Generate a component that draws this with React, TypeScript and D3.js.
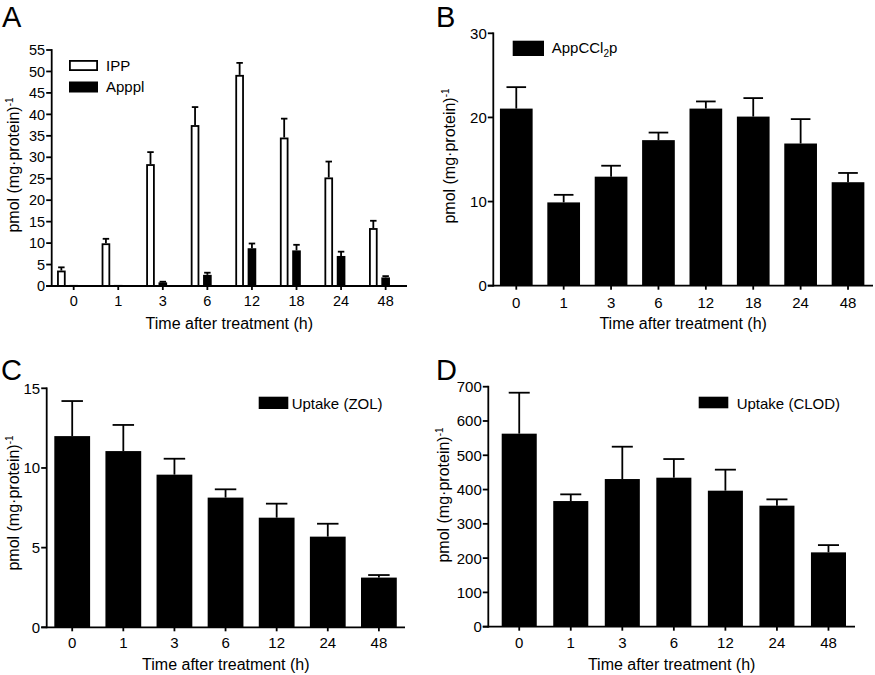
import React from "react";
import * as d3 from "d3";

// ---------- data ----------
const timesAB = ["0", "1", "3", "6", "12", "18", "24", "48"];
const timesCD = ["0", "1", "3", "6", "12", "24", "48"];

const ippMean = [3.6, 9.95, 28.4, 37.5, 49.2, 34.6, 25.3, 13.5];
const ippSem = [0.75, 1.05, 2.8, 4.2, 2.8, 4.4, 3.7, 1.7];
const appplMean = [0.25, 0.25, 0.85, 2.6, 8.8, 8.3, 7.0, 2.0];
const appplSem = [0, 0, 0.15, 0.5, 1.1, 1.3, 1.0, 0.3];

const appcclMean = [21.05, 9.9, 12.96, 17.3, 21.05, 20.1, 16.9, 12.3];
const appcclSem = [2.55, 0.9, 1.3, 0.9, 0.85, 2.2, 2.9, 1.1];

const zolMean = [12.0, 11.06, 9.58, 8.14, 6.88, 5.69, 3.12];
const zolSem = [2.2, 1.64, 1.0, 0.52, 0.88, 0.81, 0.16];

const clodMean = [563, 366.5, 430.7, 434.6, 396.7, 353, 216.8];
const clodSem = [119.5, 19.5, 94.3, 54.4, 61.3, 18.4, 21.2];

const ticksA = d3.range(0, 56, 5);
const ticksB = [0, 10, 20, 30];
const ticksC = [0, 5, 10, 15];
const ticksD = d3.range(0, 701, 100);

const seriesA = ["IPP", "Apppl"];

const FONT = "'Liberation Sans', Arial, Helvetica, sans-serif";
const SW = 1.8;

type Layout = {
  axisX: number;
  yTop: number;
  y0: number;
  xEnd: number;
  bandStart: number;
  bandEnd: number;
  pi: number;
  po: number;
  yMax: number;
  tickFont: number;
};

function Axes({
  L,
  y,
  ticks,
  cats,
  xPos,
  tickLabelY,
  title,
  titleY,
  ylabel,
}: {
  L: Layout;
  y: d3.ScaleLinear<number, number>;
  ticks: number[];
  cats: string[];
  xPos: (c: string) => number;
  tickLabelY: number;
  title: string;
  titleY: number;
  ylabel: { x: number; cy: number };
}) {
  return (
    <g>
      <line x1={L.axisX} x2={L.axisX} y1={y(L.yMax) - SW / 2} y2={L.y0 + SW / 2} stroke="#000" strokeWidth={SW} />
      {ticks.map((t) => (
        <g key={t}>
          <line x1={L.axisX - 5.5} x2={L.axisX} y1={y(t)} y2={y(t)} stroke="#000" strokeWidth={SW} />
          <text x={L.axisX - 6.5} y={y(t)} dy="0.36em" textAnchor="end" fontSize={L.tickFont} fontFamily={FONT}>
            {t}
          </text>
        </g>
      ))}
      <line x1={L.axisX - 5.5} x2={L.xEnd} y1={L.y0} y2={L.y0} stroke="#000" strokeWidth={SW} />
      {cats.map((c) => (
        <g key={c}>
          <line x1={xPos(c)} x2={xPos(c)} y1={L.y0} y2={L.y0 + 4} stroke="#000" strokeWidth={SW} />
          <text x={xPos(c)} y={tickLabelY} textAnchor="middle" fontSize={L.tickFont} fontFamily={FONT}>
            {c}
          </text>
        </g>
      ))}
      <text x={(L.axisX + L.xEnd) / 2} y={titleY} textAnchor="middle" fontSize={16} fontFamily={FONT}>
        {title}
      </text>
      <text
        transform={`translate(${ylabel.x},${ylabel.cy}) rotate(-90)`}
        textAnchor="middle"
        fontSize={16}
        fontFamily={FONT}
      >
        pmol (mg·protein)
        <tspan dy={-6} fontSize={10}>
          -1
        </tspan>
      </text>
    </g>
  );
}

function ErrBar({ x, yBar, yErr, cap }: { x: number; yBar: number; yErr: number; cap: number }) {
  if (Math.abs(yBar - yErr) < 0.5) return null;
  return (
    <g stroke="#000" strokeWidth={SW} fill="none">
      <line x1={x} x2={x} y1={yBar} y2={yErr} />
      <line x1={x - cap / 2} x2={x + cap / 2} y1={yErr} y2={yErr} />
    </g>
  );
}

function PanelA() {
  const L: Layout = {
    axisX: 51.7,
    yTop: 50,
    y0: 286,
    xEnd: 407,
    bandStart: 51.7,
    bandEnd: 395.3,
    pi: 0.53,
    po: 0.12,
    yMax: 55,
    tickFont: 14.5,
  };
  const x = d3.scaleBand<string>().domain(timesAB).range([L.bandStart, L.bandEnd]).paddingInner(L.pi).paddingOuter(L.po);
  const xs = d3.scaleBand<string>().domain(seriesA).range([0, x.bandwidth()]).paddingInner(0.3);
  const y = d3.scaleLinear().domain([0, L.yMax]).range([L.y0, L.yTop]);
  const sbw = xs.bandwidth();
  const tickPos = (c: string) => (x(c) as number) + (xs("Apppl") as number) + sbw / 2;
  return (
    <g>
      {timesAB.map((c, i) => {
        const gx = x(c) as number;
        const xi = gx + (xs("IPP") as number);
        const xa = gx + (xs("Apppl") as number);
        return (
          <g key={c}>
            <ErrBar x={xi + sbw / 2} yBar={y(ippMean[i])} yErr={y(ippMean[i] + ippSem[i])} cap={sbw * 0.75} />
            <rect
              x={xi + SW / 2}
              y={y(ippMean[i]) + SW / 2}
              width={sbw - SW}
              height={L.y0 - y(ippMean[i]) - SW / 2}
              fill="#fff"
              stroke="#000"
              strokeWidth={SW}
            />
            <ErrBar x={xa + sbw / 2} yBar={y(appplMean[i])} yErr={y(appplMean[i] + appplSem[i])} cap={sbw * 0.75} />
            <rect x={xa} y={y(appplMean[i])} width={sbw} height={L.y0 - y(appplMean[i])} fill="#000" />
          </g>
        );
      })}
      <Axes
        L={L}
        y={y}
        ticks={ticksA}
        cats={timesAB}
        xPos={tickPos}
        tickLabelY={306}
        title="Time after treatment (h)"
        titleY={329}
        ylabel={{ x: 18.5, cy: 165 }}
      />
      <rect x={69 + SW / 2} y={60 + SW / 2} width={29 - SW} height={11 - SW} fill="#fff" stroke="#000" strokeWidth={SW} />
      <text x={106} y={71} fontSize={15} fontFamily={FONT}>
        IPP
      </text>
      <rect x={69} y={81.5} width={29} height={11} fill="#000" />
      <text x={106} y={92} fontSize={15} fontFamily={FONT}>
        Apppl
      </text>
      <text x={2} y={26.5} fontSize={29} fontFamily={FONT}>
        A
      </text>
    </g>
  );
}

function SimplePanel({
  L,
  cats,
  mean,
  sem,
  ticks,
  tickLabelY,
  titleY,
  ylabel,
  legend,
  letter,
}: {
  L: Layout;
  cats: string[];
  mean: number[];
  sem: number[];
  ticks: number[];
  tickLabelY: number;
  titleY: number;
  ylabel: { x: number; cy: number };
  legend: { x: number; y: number; w: number; h: number; tx: number; ty: number; label: React.ReactNode };
  letter: { t: string; x: number; y: number };
}) {
  const x = d3.scaleBand<string>().domain(cats).range([L.bandStart, L.bandEnd]).paddingInner(L.pi).paddingOuter(L.po);
  const y = d3.scaleLinear().domain([0, L.yMax]).range([L.y0, L.yTop]);
  const bw = x.bandwidth();
  return (
    <g>
      {cats.map((c, i) => {
        const bx = x(c) as number;
        return (
          <g key={c}>
            <ErrBar x={bx + bw / 2} yBar={y(mean[i])} yErr={y(mean[i] + sem[i])} cap={bw * 0.6} />
            <rect x={bx} y={y(mean[i])} width={bw} height={L.y0 - y(mean[i])} fill="#000" />
          </g>
        );
      })}
      <Axes
        L={L}
        y={y}
        ticks={ticks}
        cats={cats}
        xPos={(c) => (x(c) as number) + bw / 2}
        tickLabelY={tickLabelY}
        title="Time after treatment (h)"
        titleY={titleY}
        ylabel={ylabel}
      />
      <rect x={legend.x} y={legend.y} width={legend.w} height={legend.h} fill="#000" />
      <text x={legend.tx} y={legend.ty} fontSize={15} fontFamily={FONT}>
        {legend.label}
      </text>
      <text x={letter.x} y={letter.y} fontSize={29} fontFamily={FONT}>
        {letter.t}
      </text>
    </g>
  );
}

export default function App() {
  const LB: Layout = {
    axisX: 493.3,
    yTop: 33.3,
    y0: 285.7,
    xEnd: 873,
    bandStart: 493.3,
    bandEnd: 871,
    pi: 0.31,
    po: 0.14,
    yMax: 30,
    tickFont: 15,
  };
  const LC: Layout = {
    axisX: 46.7,
    yTop: 388.3,
    y0: 627.3,
    xEnd: 405,
    bandStart: 46.7,
    bandEnd: 404.4,
    pi: 0.3,
    po: 0.149,
    yMax: 15,
    tickFont: 15,
  };
  const LD: Layout = {
    axisX: 488.3,
    yTop: 386.7,
    y0: 626.7,
    xEnd: 855,
    bandStart: 488.3,
    bandEnd: 859.4,
    pi: 0.32,
    po: 0.26,
    yMax: 700,
    tickFont: 15,
  };
  return (
    <svg
      width={875}
      height={675}
      viewBox="0 0 875 675"
      style={{ position: "absolute", left: 0, top: 0, background: "#fff" }}
    >
      <rect x={0} y={0} width={875} height={675} fill="#fff" />
      <PanelA />
      <SimplePanel
        L={LB}
        cats={timesAB}
        mean={appcclMean}
        sem={appcclSem}
        ticks={ticksB}
        tickLabelY={308}
        titleY={329}
        ylabel={{ x: 455, cy: 156 }}
        legend={{
          x: 512.7,
          y: 40.7,
          w: 31.3,
          h: 15.3,
          tx: 551.7,
          ty: 53,
          label: (
            <>
              AppCCl
              <tspan dy={4} fontSize={10}>
                2
              </tspan>
              <tspan dy={-4}>p</tspan>
            </>
          ),
        }}
        letter={{ t: "B", x: 436, y: 26.5 }}
      />
      <SimplePanel
        L={LC}
        cats={timesCD}
        mean={zolMean}
        sem={zolSem}
        ticks={ticksC}
        tickLabelY={648}
        titleY={670}
        ylabel={{ x: 18.5, cy: 503 }}
        legend={{ x: 258.7, y: 396.7, w: 29.6, h: 12.3, tx: 291.7, ty: 409, label: "Uptake (ZOL)" }}
        letter={{ t: "C", x: 1, y: 380 }}
      />
      <SimplePanel
        L={LD}
        cats={timesCD}
        mean={clodMean}
        sem={clodSem}
        ticks={ticksD}
        tickLabelY={648}
        titleY={670}
        ylabel={{ x: 449, cy: 495 }}
        legend={{ x: 698.7, y: 396.7, w: 29.6, h: 11.6, tx: 736.7, ty: 409, label: "Uptake (CLOD)" }}
        letter={{ t: "D", x: 436, y: 380 }}
      />
    </svg>
  );
}
